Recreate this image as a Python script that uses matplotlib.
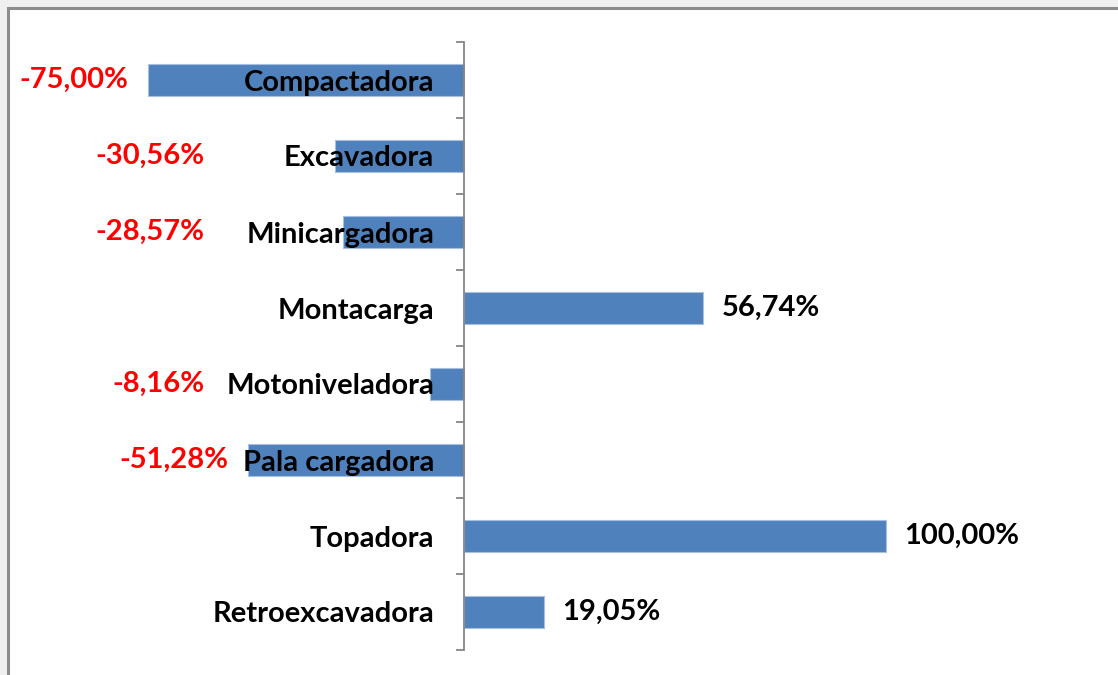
import matplotlib.pyplot as plt
from matplotlib.patches import Rectangle

# Data (top to bottom as shown)
categories = ['Compactadora', 'Excavadora', 'Minicargadora', 'Montacarga',
              'Motoniveladora', 'Pala cargadora', 'Topadora', 'Retroexcavadora']
values = [-75.00, -30.56, -28.57, 56.74, -8.16, -51.28, 100.00, 19.05]

plt.rcParams['font.family'] = ['Lato', 'DejaVu Sans']

fig = plt.figure(figsize=(11.18, 6.75), dpi=100)
fig.patch.set_facecolor('#f0f0f0')

# chart frame (gray border, white inside)
W, H = 1118, 675
fig.patches.append(Rectangle((8 / W, -0.05), 1.2, 1 - 8 / H + 0.05,
                             transform=fig.transFigure, facecolor='white',
                             edgecolor='#8c8c8c', linewidth=2.2, zorder=-10))

px_per_unit = 422 / 100
zero_px = 464
left_px, right_px = 20, 1100
ax = fig.add_axes([left_px / W, 1 - 650 / H, (right_px - left_px) / W, 608 / H])
ax.patch.set_visible(False)

y = list(range(len(categories)))
ax.barh(y, values, height=0.41, color='#4f81bd', edgecolor='#a7bfe0', linewidth=0.8)

ax.set_xlim(-(zero_px - left_px) / px_per_unit, (right_px - zero_px) / px_per_unit)
ax.set_ylim(len(categories) - 0.5, -0.5)

for s in ['top', 'right', 'bottom']:
    ax.spines[s].set_visible(False)
ax.spines['left'].set_position(('data', 0))
ax.spines['left'].set_color('#868686')
ax.spines['left'].set_linewidth(1.3)
ax.set_xticks([])

fs = 21
ax.set_yticks(y)
ax.set_yticklabels(categories, fontsize=fs, fontweight='bold', color='black')
ax.tick_params(axis='y', which='major', length=0, pad=21.6)
ax.set_yticks([i - 0.5 for i in range(len(categories) + 1)], minor=True)
ax.tick_params(axis='y', which='minor', length=6, width=1.3, color='#868686', direction='out')

# value labels (negatives sit left of the category names)
for yi, v in zip(y, values):
    txt = f'{v:.2f}%'.replace('.', ',')
    if v < 0:
        xpos = v - 4.5 if v < -40 else -61.5
        ax.text(xpos, yi, txt, ha='right', va='center',
                fontsize=fs, fontweight='bold', color='#ff0000')
    else:
        ax.text(v + 4.3, yi, txt, ha='left', va='center',
                fontsize=fs, fontweight='bold', color='black')

fig.savefig('out.png', dpi=100, facecolor=fig.get_facecolor())
